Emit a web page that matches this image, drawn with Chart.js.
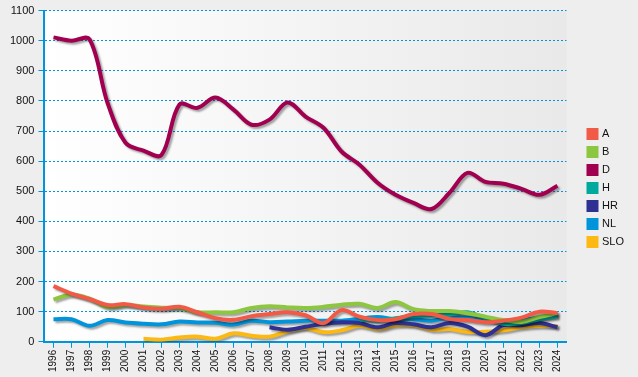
<!DOCTYPE html>
<html>
<head>
<meta charset="utf-8">
<script src="https://cdn.jsdelivr.net/npm/chart.js@4/dist/chart.umd.min.js"></script>
<style>
  html, body { margin: 0; padding: 0; background: #eeeeee; }
  #wrap { width: 638px; height: 377px; }
</style>
</head>
<body>
<div id="wrap"><canvas id="chart" width="638" height="377"></canvas></div>
<script>
// data
const years = ['1996','1997','1998','1999','2000','2001','2002','2003','2004','2005',
  '2006','2007','2008','2009','2010','2011','2012','2013','2014','2015',
  '2016','2017','2018','2019','2020','2021','2022','2023','2024'];

const seriesA = [185,160,142,122,125,114,110,116,98,78,73,85,92,98,88,62,105,83,72,75,92,92,76,72,65,70,80,100,95];
const seriesB = [140,157,143,115,122,117,113,112,98,98,98,112,118,114,112,116,123,126,112,132,108,102,102,95,83,72,66,82,95];
const seriesD = [1011,1000,1005,794,661,635,620,788,777,811,771,721,738,795,748,711,632,588,528,488,461,441,495,561,531,525,508,488,518];
const seriesH = [null,null,null,null,null,null,null,null,null,null,null,null,null,null,null,null,null,75,70,78,85,88,90,98,78,60,62,75,85];
const seriesHR = [null,null,null,null,null,null,null,null,null,null,null,null,48,40,50,60,65,62,48,62,58,48,62,50,22,55,55,62,48];
const seriesNL = [75,75,53,72,64,60,58,67,64,63,57,70,65,67,70,70,70,76,82,75,75,70,80,80,72,70,72,80,88];
const seriesSLO = [null,null,null,null,null,10,7,14,17,10,28,20,17,35,46,32,38,53,42,55,55,40,42,33,33,38,48,53,52];

const names = ['A','B','D','H','HR','NL','SLO'];
const colors = ['#f15a46','#8dc63f','#a0004f','#00a99d','#2e3192','#0095da','#fdb913'];
const values = [seriesA, seriesB, seriesD, seriesH, seriesHR, seriesNL, seriesSLO];

const axisBlue = '#0095da';
const fontFamily = '"Liberation Sans", Arial, sans-serif';

// gradient behind the plot area
const plotBg = {
  id: 'plotBg',
  beforeDraw(chart) {
    const { ctx, chartArea: a } = chart;
    const g = ctx.createLinearGradient(a.left, 0, a.right, 0);
    g.addColorStop(0, '#ffffff');
    g.addColorStop(1, '#e9e9e9');
    ctx.save();
    ctx.fillStyle = g;
    ctx.fillRect(a.left, a.top, a.right - a.left, a.bottom - a.top);
    ctx.restore();
  }
};

// grey drop shadow under the lines
const lineShadow = {
  id: 'lineShadow',
  beforeDatasetDraw(chart) {
    const ctx = chart.ctx;
    ctx.save();
    ctx.shadowColor = 'rgba(0,0,0,0.35)';
    ctx.shadowBlur = 2;
    ctx.shadowOffsetX = 2;
    ctx.shadowOffsetY = 2;
  },
  afterDatasetDraw(chart) {
    chart.ctx.restore();
  }
};

// make the legend take more room on its left, so the plot ends earlier
const LEGEND_GAP = 15;
const LEGEND_LIFT = 1;
const legendGap = {
  id: 'legendGap',
  afterInit(chart) {
    const lg = chart.legend;
    if (!lg) return;
    const fit = lg.fit.bind(lg);
    lg.fit = function () { fit(); this.width += LEGEND_GAP; };
  },
  afterLayout(chart) {
    const lg = chart.legend;
    if (!lg) return;
    lg.left += LEGEND_GAP;
    lg.right += LEGEND_GAP;
    lg.top -= LEGEND_LIFT;
    lg.bottom -= LEGEND_LIFT;
  }
};

new Chart(document.getElementById('chart'), {
  type: 'line',
  data: {
    labels: years,
    datasets: names.map((n, i) => ({
      label: n,
      data: values[i],
      borderColor: colors[i],
      backgroundColor: colors[i],
      borderWidth: 4,
      pointRadius: 0,
      tension: 0.35,
      fill: false
    }))
  },
  options: {
    responsive: false,
    animation: false,
    layout: { padding: { top: 4, left: 6, bottom: 3, right: 4 } },
    plugins: {
      legend: {
        position: 'right',
        labels: {
          boxWidth: 8,
          boxHeight: 8,
          padding: 7,
          color: '#111',
          font: { family: fontFamily, size: 11 }
        }
      },
      tooltip: { enabled: false }
    },
    scales: {
      x: {
        offset: true,
        border: { color: axisBlue, width: 2 },
        grid: { drawOnChartArea: false, drawTicks: true, tickLength: 6, tickColor: axisBlue, tickWidth: 1 },
        ticks: {
          color: '#111',
          minRotation: 90, maxRotation: 90,
          autoSkip: false,
          padding: 2,
          font: { family: fontFamily, size: 10 }
        }
      },
      y: {
        min: 0, max: 1100,
        border: { color: axisBlue, width: 2, dash: [2, 2] },
        grid: {
          color: axisBlue,
          lineWidth: 1,
          tickBorderDash: [],
          tickLength: 6,
          tickColor: axisBlue
        },
        ticks: {
          stepSize: 100,
          color: '#111',
          padding: 4,
          font: { family: fontFamily, size: 11 },
          callback: v => String(v)
        }
      }
    }
  },
  plugins: [plotBg, lineShadow, legendGap]
});
</script>
</body>
</html>
